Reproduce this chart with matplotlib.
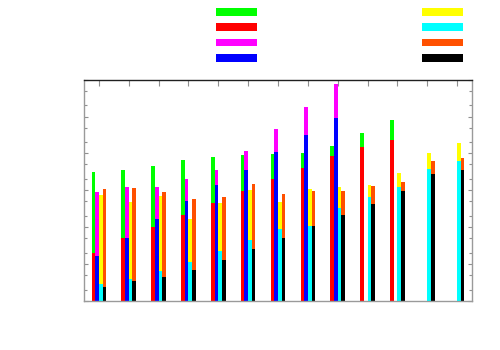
import numpy as np
import matplotlib
matplotlib.use("Agg")
import matplotlib.pyplot as plt
from matplotlib.patches import Rectangle
from matplotlib.ticker import LogLocator, NullFormatter, FixedLocator

nan = np.nan
groups = list(range(13))

# series values (log scale)
green = [3080, 3560, 4660, 6650, 8040, 9100, 9390, 10320, 16290, 35400, 79800, nan, nan]
red = [19.8, 51.5, 102, 213, 452, 957, 1990, 4110, 8550, 14730, 23560, nan, nan]
magenta = [916, 1207, 1253, 2000, 3490, 11330, 46900, 183600, 759000, nan, nan, nan, nan]
blue = [16.7, 51.5, 169, 519, 1420, 3610, 10990, 30830, 90550, nan, nan, nan, nan]
yellow = [745, 490, 713, 161, 452, 1032, 481, 1052, 1207, 1393, 2950, 10320, 18700]
cyan = [2.9, 3.89, 6.29, 11.4, 22.0, 45.4, 88.8, 108, 337, 658, 1230, 3720, 6140]
orange = [1064, 1155, 916, 580, 658, 1465, 804, 940, 957, 1309, 1680, 6250, 7410]
black = [2.4, 3.37, 4.49, 6.96, 12.5, 24.6, 50.6, 104, 209, 432, 927, 2720, 3630]

pairs = [
    (green, red, "#00ff00", "#ff0000"),
    (magenta, blue, "#ff00ff", "#0000ff"),
    (yellow, cyan, "#ffff00", "#00ffff"),
    (orange, black, "#ff5000", "#000000"),
]

fig = plt.figure(figsize=(5, 3.5), dpi=100)
ax = fig.add_axes([84 / 500, 1 - 300.7 / 350, (472 - 84) / 500, (300.7 - 79.7) / 350])
ax.set_yscale("log")

w = 0.123
x = np.array(groups, dtype=float)
for i, (outer, inner, c_out, c_in) in enumerate(pairs):
    off = (i - 1.5) * w
    ax.bar(x + off, outer, width=w, color=c_out, linewidth=0)
    ax.bar(x + off, inner, width=w, color=c_in, linewidth=0)

ax.set_xlim(-0.5, 12.5)
ax.set_ylim(1, 1e6)

ax.yaxis.set_major_locator(LogLocator(base=10, numticks=10))
ax.yaxis.set_minor_locator(LogLocator(base=10, subs=[2, 5], numticks=20))
ax.yaxis.set_major_formatter(NullFormatter())
ax.yaxis.set_minor_formatter(NullFormatter())
ax.xaxis.set_major_locator(FixedLocator(groups))
ax.xaxis.set_major_formatter(NullFormatter())

ax.tick_params(axis="y", which="major", direction="in", length=3, width=0.8,
               color="#909090", left=True, right=True)
ax.tick_params(axis="y", which="minor", direction="in", length=2, width=0.8,
               color="#909090", left=True, right=True)
ax.tick_params(axis="x", which="major", direction="in", length=4, width=0.8,
               color="#909090", top=True, bottom=False)

for s in ["left", "bottom", "right"]:
    ax.spines[s].set_color("#9a9a9a")
    ax.spines[s].set_linewidth(1.0)
ax.spines["top"].set_color("#202020")
ax.spines["top"].set_linewidth(1.0)

# legend samples (no text in the reference)
legend_left = ["#00ff00", "#ff0000", "#ff00ff", "#0000ff"]
legend_right = ["#ffff00", "#00ffff", "#ff5000", "#000000"]
row_centers = [11.8, 27.0, 42.5, 57.6]
for col_x, cols in [(216, legend_left), (422, legend_right)]:
    for yc, c in zip(row_centers, cols):
        fig.add_artist(Rectangle((col_x / 500, 1 - (yc + 3.9) / 350), 41.3 / 500, 7.8 / 350,
                                 transform=fig.transFigure, facecolor=c, edgecolor="none"))

fig.savefig("out.png", dpi=100)
